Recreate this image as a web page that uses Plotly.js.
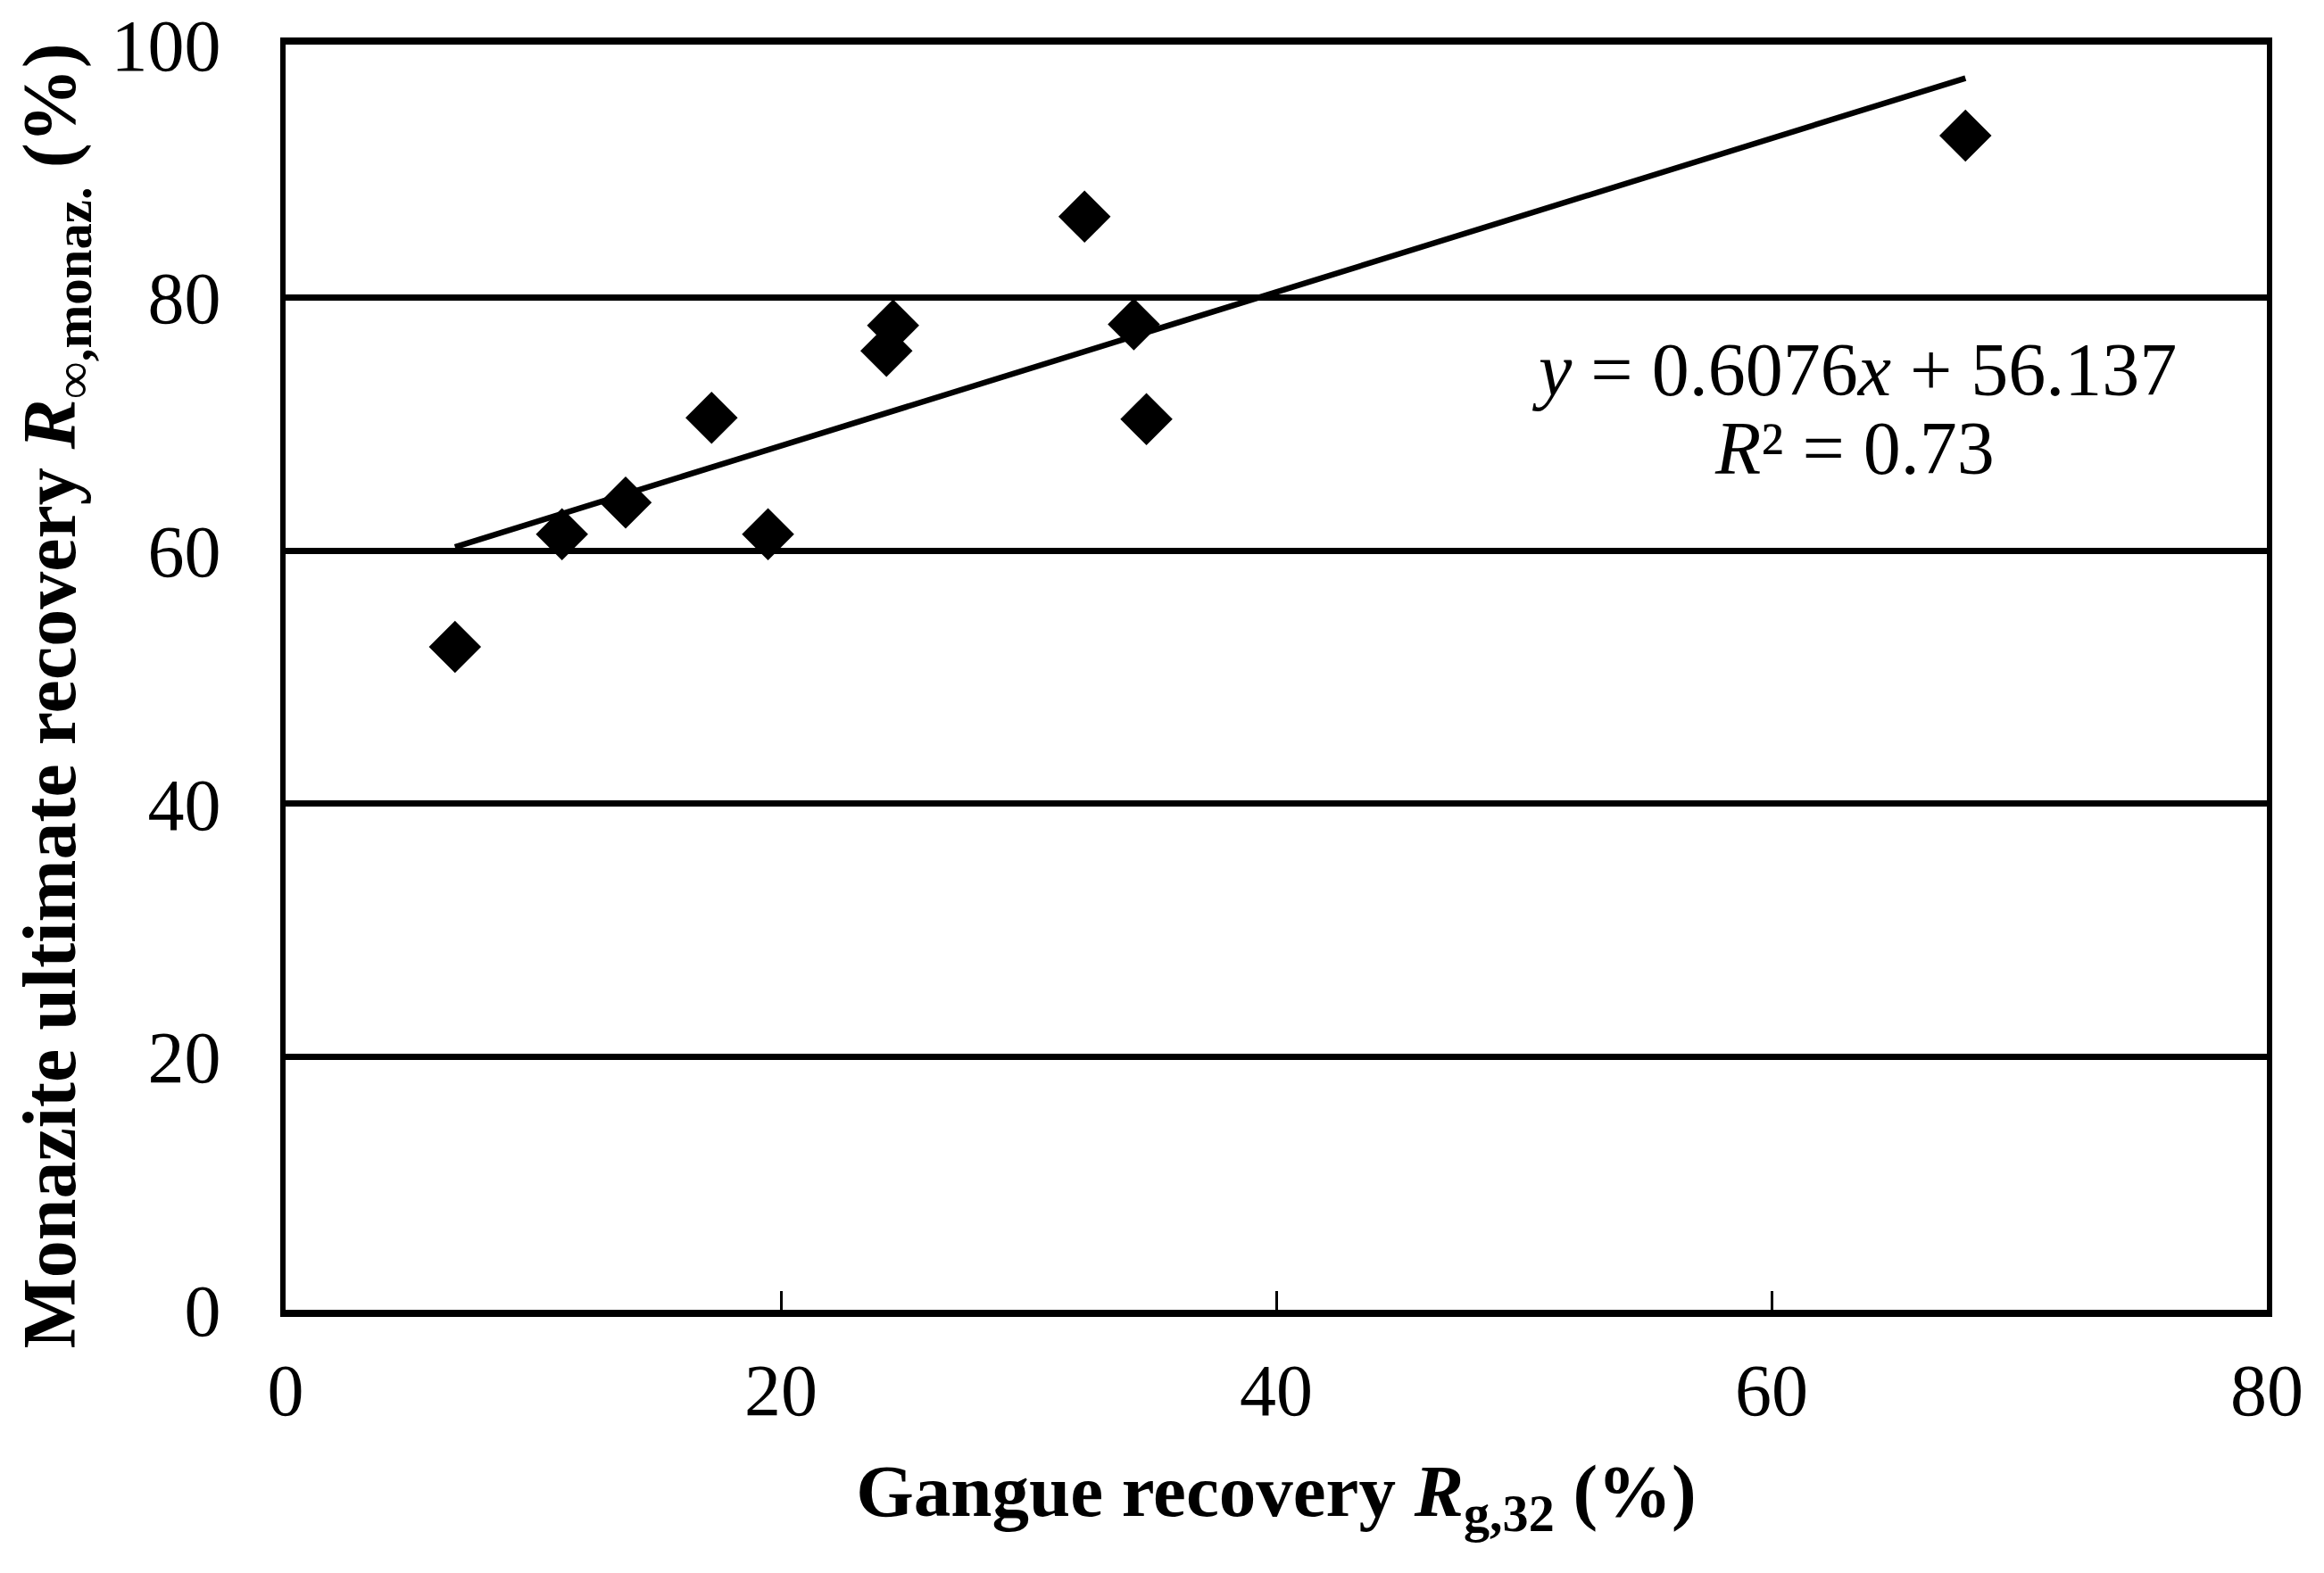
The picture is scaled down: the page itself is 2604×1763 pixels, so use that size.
<!DOCTYPE html>
<html>
<head>
<meta charset="utf-8">
<script src="https://cdn.plot.ly/plotly-3.0.1.min.js"></script>
<style>html,body{margin:0;padding:0;background:#fff;}#chart{width:2604px;height:1763px;}</style>
</head>
<body>
<div id="chart"></div>
<script>
// Gangue recovery R_g,32 (%)
const gangueRecovery = [6.84, 11.16, 13.73, 17.2, 19.48, 24.26, 24.53, 32.26, 34.25, 34.76, 67.83];
// Monazite ultimate recovery (%)
const monaziteRecovery = [52.4, 61.3, 63.8, 70.5, 61.3, 75.8, 77.8, 86.4, 77.9, 70.4, 92.8];
// Linear fit shown on the chart
const fitSlope = 0.6076;
const fitIntercept = 56.137;
const fitR2 = 0.73;
const xTicks = [0, 20, 40, 60, 80];
const yTicks = [0, 20, 40, 60, 80, 100];

const fitX = [Math.min(...gangueRecovery), Math.max(...gangueRecovery)];
const fitY = fitX.map(x => fitSlope * x + fitIntercept);

const FONT = '"Liberation Serif", "Times New Roman", Times, serif';

const traces = [
  {
    x: fitX, y: fitY, type: 'scatter', mode: 'lines',
    line: {color: '#000', width: 6.5}, hoverinfo: 'skip', showlegend: false
  },
  {
    x: gangueRecovery, y: monaziteRecovery, type: 'scatter', mode: 'markers',
    marker: {symbol: 'diamond', size: 45, color: '#000', line: {width: 0}},
    showlegend: false
  }
];

const layout = {
  width: 2604, height: 1763,
  paper_bgcolor: '#fff', plot_bgcolor: '#fff',
  margin: {l: 320, r: 64, t: 50, b: 295},
  font: {family: FONT, color: '#000', size: 82},
  showlegend: false,
  xaxis: {
    range: [0, 80], tickvals: xTicks, ticktext: xTicks.map(String),
    showgrid: false, zeroline: false,
    showline: true, linecolor: '#000', linewidth: 8, mirror: true,
    ticks: 'inside', ticklen: 21, tickwidth: 3, tickcolor: '#000',
    tickfont: {family: FONT, size: 82, color: '#000'},
    ticklabelstandoff: 12,
    title: {
      text: '<b>Gangue recovery <i>R</i><sub>g,32</sub> (%)</b>',
      font: {family: FONT, size: 83, color: '#000'}, standoff: 40
    },
    automargin: false, fixedrange: true
  },
  yaxis: {
    range: [0, 100], tickvals: yTicks, ticktext: yTicks.map(String),
    showgrid: true, gridcolor: '#000', gridwidth: 7,
    zeroline: false,
    showline: true, linecolor: '#000', linewidth: 6, mirror: true,
    ticks: '', tickfont: {family: FONT, size: 82, color: '#000'},
    ticklabelstandoff: 50,
    title: {
      text: '<b>Monazite ultimate recovery <i>R</i><sub><span style="font-weight:normal">∞</span>,monaz.</sub> (%)</b>&nbsp;&nbsp;',
      font: {family: FONT, size: 84, color: '#000'}, standoff: 14
    },
    automargin: false, fixedrange: true
  },
  annotations: [
    {
      x: 63.35, y: 74.3, xref: 'x', yref: 'y', showarrow: false,
      xanchor: 'center', yanchor: 'middle',
      text: '<i>y</i> = ' + fitSlope + '<i>x</i> + ' + fitIntercept,
      font: {family: FONT, size: 84, color: '#000'}
    },
    {
      x: 63.35, y: 68.1, xref: 'x', yref: 'y', showarrow: false,
      xanchor: 'center', yanchor: 'middle',
      text: '<i>R</i>² = ' + fitR2,
      font: {family: FONT, size: 84, color: '#000'}
    }
  ]
};

Plotly.newPlot('chart', traces, layout, {staticPlot: true, displayModeBar: false});
</script>
</body>
</html>
